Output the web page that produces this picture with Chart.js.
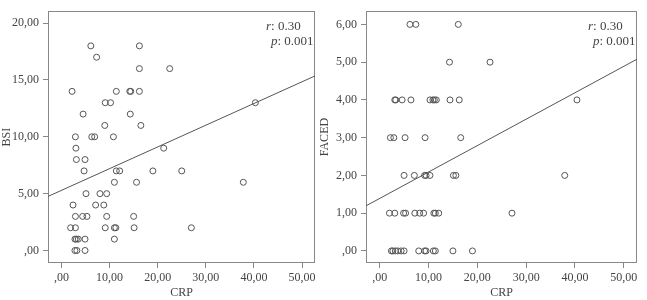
<!DOCTYPE html>
<html>
<head>
<meta charset="utf-8">
<script src="https://cdn.jsdelivr.net/npm/chart.js@4/dist/chart.umd.min.js"></script>
<style>
  body { margin: 0; background: #fff; }
  .box { position: absolute; top: 0; height: 300px; }
  #left { left: 0; width: 330px; }
  #right { left: 318px; width: 329px; }
</style>
</head>
<body>
<div class="box" id="left"><canvas id="bsiChart"></canvas></div>
<div class="box" id="right"><canvas id="facedChart"></canvas></div>
<script>
// CRP vs BSI (left panel)
const bsiCrp = [6.1, 16.2, 7.3, 16.2, 22.5, 2.2, 11.4, 14.2, 14.4, 16.2, 9.1, 10.2, 40.3, 4.5, 14.3,
  9.0, 16.5, 2.9, 6.3, 6.9, 10.8, 3.0, 21.25, 3.1, 4.9, 4.7, 11.4, 12.1, 19.0, 25.0, 11.0, 15.6, 37.8,
  5.1, 8.0, 9.4, 2.4, 7.1, 8.8, 2.9, 4.4, 5.3, 9.4, 15.0, 1.9, 2.9, 9.1, 11.0, 11.3, 15.1, 27.0,
  2.8, 3.1, 3.5, 4.9, 11.0, 2.8, 3.2, 4.9];
const bsiScore = [18, 18, 17, 16, 16, 14, 14, 14, 14, 14, 13, 13, 13, 12, 12,
  11, 11, 10, 10, 10, 10, 9, 9, 8, 8, 7, 7, 7, 7, 7, 6, 6, 6,
  5, 5, 5, 4, 4, 4, 3, 3, 3, 3, 3, 2, 2, 2, 2, 2, 2, 2,
  1, 1, 1, 1, 1, 0, 0, 0];

// CRP vs FACED (right panel)
const facedCrp = [6.2, 7.4, 16.1, 14.3, 22.6,
  3.1, 3.3, 4.6, 6.4, 10.3, 10.9, 11.2, 11.6, 14.4, 16.3, 40.4,
  2.2, 2.9, 5.2, 9.3, 16.6,
  5.0, 7.1, 9.2, 9.5, 10.3, 15.1, 15.6, 37.9,
  2.0, 3.1, 4.9, 5.3, 7.2, 8.2, 9.0, 11.1, 11.4, 12.1, 27.1,
  2.4, 2.7, 3.2, 3.7, 4.4, 5.0, 8.0, 9.2, 9.5, 11.0, 11.4, 15.0, 19.0];
const facedScore = [6, 6, 6, 5, 5,
  4, 4, 4, 4, 4, 4, 4, 4, 4, 4, 4,
  3, 3, 3, 3, 3,
  2, 2, 2, 2, 2, 2, 2, 2,
  1, 1, 1, 1, 1, 1, 1, 1, 1, 1, 1,
  0, 0, 0, 0, 0, 0, 0, 0, 0, 0, 0, 0, 0];

// fitted lines (intercept, slope)
const bsiFit = [5.29, 0.191];
const facedFit = [1.39, 0.070];
const statText = ['0.30', '0.001'];

const xTicks = [0, 10, 20, 30, 40, 50];
const xTickLabels = [',00', '10,00', '20,00', '30,00', '40,00', '50,00'];
const bsiTicks = [0, 5, 10, 15, 20];
const bsiTickLabels = [',00', '5,00', '10,00', '15,00', '20,00'];
const facedTicks = [0, 1, 2, 3, 4, 5, 6];
const facedTickLabels = [',00', '1,00', '2,00', '3,00', '4,00', '5,00', '6,00'];

const ink = '#555';
const fontFam = '"Liberation Serif", "DejaVu Serif", serif';

const framePlugin = {
  id: 'frame',
  beforeDatasetsDraw(chart) {
    const { ctx, chartArea: a } = chart;
    ctx.save();
    ctx.strokeStyle = '#888';
    ctx.lineWidth = 1;
    ctx.strokeRect(Math.round(a.left) + 0.5, Math.round(a.top) + 0.5,
      Math.round(a.right - a.left) - 1, Math.round(a.bottom - a.top) - 1);
    ctx.restore();
  },
  afterDraw(chart) {
    const { ctx, chartArea: a } = chart;
    ctx.save();
    ctx.fillStyle = '#444';
    ctx.textBaseline = 'middle';
    const rows = [['r', statText[0], a.right - 49, a.top + 15], ['p', statText[1], a.right - 44, a.top + 30]];
    rows.forEach(([k, v, x, y]) => {
      ctx.font = 'italic 13px ' + fontFam;
      ctx.fillText(k, x, y);
      const w = ctx.measureText(k).width;
      ctx.font = '13px ' + fontFam;
      ctx.fillText(': ' + v, x + w, y);
    });
    ctx.restore();
  }
};

function makeChart(id, xs, ys, fit, yTicks, yLabels, yTitle, yMin, yMax, padRight) {
  const xMin = -2.8, xMax = 52.7;
  const pts = xs.map((x, i) => ({ x: x, y: ys[i] }));
  const line = [xMin, xMax].map(x => ({ x: x, y: fit[0] + fit[1] * x }));
  return new Chart(document.getElementById(id), {
    type: 'scatter',
    data: {
      datasets: [{
        data: pts,
        pointRadius: 3,
        pointBorderWidth: 1,
        borderColor: ink,
        backgroundColor: 'rgba(0,0,0,0)'
      }, {
        type: 'line',
        data: line,
        borderColor: ink,
        borderWidth: 1,
        pointRadius: 0
      }]
    },
    options: {
      responsive: true,
      maintainAspectRatio: false,
      animation: false,
      events: [],
      layout: { padding: { top: 5, right: padRight, left: 0, bottom: 0 } },
      plugins: { legend: { display: false }, tooltip: { enabled: false } },
      scales: {
        x: {
          type: 'linear',
          min: xMin,
          max: xMax,
          afterBuildTicks: axis => { axis.ticks = xTicks.map(v => ({ value: v })); },
          afterFit: axis => { axis.height = 37; },
          grid: { drawOnChartArea: false, drawTicks: true, tickLength: 5, color: '#888' },
          border: { display: false },
          ticks: {
            autoSkip: false, maxRotation: 0, padding: 3, color: '#444',
            font: { family: fontFam, size: 12 },
            callback: v => xTickLabels[xTicks.indexOf(v)]
          },
          title: { display: true, text: 'CRP', color: '#444', padding: 0, font: { family: fontFam, size: 12 } }
        },
        y: {
          type: 'linear',
          min: yMin,
          max: yMax,
          afterBuildTicks: axis => { axis.ticks = yTicks.map(v => ({ value: v })); },
          afterFit: axis => { axis.width = 48; },
          grid: { drawOnChartArea: false, drawTicks: true, tickLength: 5, color: '#888' },
          border: { display: false },
          ticks: {
            autoSkip: false, padding: 4, color: '#444',
            font: { family: fontFam, size: 12 },
            callback: v => yLabels[yTicks.indexOf(v)]
          },
          title: { display: true, text: yTitle, color: '#444', padding: 0, font: { family: fontFam, size: 12 } }
        }
      }
    },
    plugins: [framePlugin]
  });
}

makeChart('bsiChart', bsiCrp, bsiScore, bsiFit, bsiTicks, bsiTickLabels, 'BSI', -1.1, 21.05, 15);
makeChart('facedChart', facedCrp, facedScore, facedFit, facedTicks, facedTickLabels, 'FACED', -0.32, 6.35, 10);
</script>
</body>
</html>
